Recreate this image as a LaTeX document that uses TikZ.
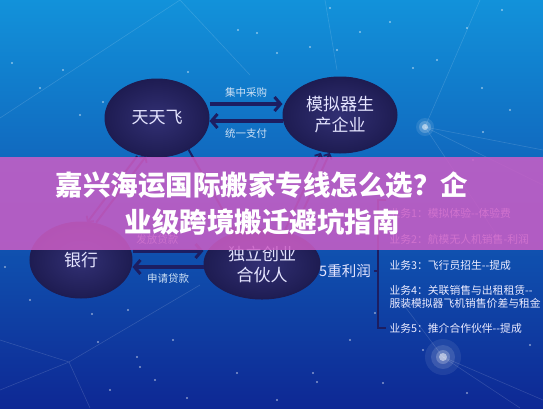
\documentclass[tikz,border=0pt]{standalone}
\usepackage{fontspec}
\newfontfamily\cjk{Noto Sans CJK SC}
\usetikzlibrary{shapes.geometric}
\usetikzlibrary{arrows.meta}
\usetikzlibrary{positioning}

\definecolor{navy}{RGB}{28,30,98}
\definecolor{bubblein}{RGB}{50,48,116}
\definecolor{bubbleout}{RGB}{30,28,82}
\definecolor{skytop}{RGB}{18,146,218}
\definecolor{skymid}{RGB}{16,108,204}
\definecolor{skybot}{RGB}{14,40,148}
\definecolor{band}{RGB}{204,94,198}
\definecolor{tagtext}{RGB}{205,225,245}

\tikzset{
  bubble/.style={ellipse, draw=bubbleout, line width=1pt, inner color=bubblein,
    outer color=bubbleout, text=white!90!blue, align=center, inner sep=0pt,
    font=\cjk\fontsize{17}{21}\selectfont},
  flow/.style={draw=navy, line width=3.6pt,
    -{Straight Barb[length=6pt,width=14pt,line width=3pt]}},
  slant/.style={draw=navy, line width=2pt,
    -{Straight Barb[length=4pt,width=9pt,line width=1.8pt]}},
  tag/.style={text=tagtext, font=\cjk\fontsize{10.5}{12}\selectfont},
  item/.style={text=white!92!blue, anchor=west, font=\cjk\fontsize{10.8}{13}\selectfont},
  faint/.style={draw=white, opacity=.14, line width=.6pt},
}

\begin{document}
\begin{tikzpicture}[x=1pt, y=-1pt]
  \useasboundingbox (0,0) rectangle (543,408);
  \clip (0,0) rectangle (543,408);
  % sky
  \shade[top color=skytop, middle color=skymid, bottom color=skybot] (0,0) rectangle (543,408);

  % star net
  \draw[faint] (0,118) -- (180,0) -- (250,75);
  \draw[faint] (325,0) -- (337,70);
  \draw[faint] (480,0) -- (425,127) -- (543,150);
  \draw[faint] (425,127) -- (543,185);
  \draw[faint] (425,127) -- (500,240);
  \draw[faint] (0,340) -- (69,362) -- (0,390);
  \draw[faint] (69,362) -- (200,285);
  \draw[faint] (69,362) -- (90,408);
  \draw[faint] (400,300) -- (443,357) -- (543,400);
  \draw[faint] (443,357) -- (520,408);
  \foreach \x/\y in {238/30,257/33,310/47,330/8,337/50,360/32,390/22,413/68,437/60,
      482/88,467/28,502/10,63/70,40/88,80/115,103/102,12/63,188/72,277/53,510/110,
      483/132,473/160,5/267,92/314,128/310,98/342,137/357,140/367,155/380,110/390,
      173/340,237/373,313/373,317/382,350/340,383/383,467/393,423/350,375/313,
      277/400,187/398,30/300,520/300,530/345}
    \fill[white, opacity=.5] (\x,\y) circle (1.1pt);
  \foreach \r/\o in {9/.1,6/.2,3/.5} \fill[white, opacity=\o] (425,127) circle (\r pt);
  \foreach \r/\o in {18/.08,12/.12,7/.22,4/.5} \fill[white, opacity=\o] (443,357) circle (\r pt);

  % partners
  \node[bubble, minimum width=104pt, minimum height=78pt] (tian) at (157,118) {天天飞};
  \node[bubble, minimum width=114pt, minimum height=76pt] (moni) at (340,115) {模拟器生\\产企业};
  \node[bubble, minimum width=102pt, minimum height=76pt] (bank) at (81,260) {银行};
  \node[bubble, minimum width=116pt, minimum height=70pt] (hehuo) at (262,264) {独立创业\\合伙人};

  \draw[flow] ([yshift=14pt]tian.east) -- ([yshift=14pt]tian.east -| moni.west)
    node[tag, midway, above=2pt] (caigou) {集中采购};
  \draw[flow] ([yshift=-6pt]moni.west) -- ([yshift=-6pt]moni.west -| tian.east)
    node[tag, midway, below=2pt] (zhifu) {统一支付};
  \draw[flow] ([yshift=9pt]bank.east) -- ([yshift=9pt]bank.east -| hehuo.west)
    node[tag, pos=.35, above=2pt] (fafang) {发放贷款};
  \draw[flow] ([yshift=-3pt]hehuo.west) -- ([yshift=-3pt]hehuo.west -| bank.east)
    node[tag, midway, below=2pt] (shenqing) {申请贷款};

  \draw[slant] ([xshift=-6pt]tian.250) -- ([xshift=-6pt]bank.72);
  \draw[slant] ([xshift=3pt]bank.72) -- ([xshift=3pt]tian.250);
  \draw[slant] (tian.315) -- (hehuo.130);
  \draw[slant] (hehuo.45) -- (moni.255);
  \draw[slant] ([xshift=-9pt]hehuo.45) -- ([xshift=-9pt]moni.255);

  % profits
  \node[text=white!90!blue, font=\cjk\fontsize{14.5}{16}\selectfont] (lirun) at (345,271) {5重利润};
  \coordinate (brtop) at (386,200);
  \coordinate (brbot) at (386,328);
  \draw[navy, line width=1.6pt] (brtop) -- (378,200) -- (378,328) -- (brbot);
  \draw[navy, line width=1.6pt] (lirun.east) -- (378,271);
  \node[item] (yw1) at (386,213) {业务1：模拟体验--体验费};
  \node[item] (yw2) at (386,239) {业务2：航模无人机销售-利润};
  \node[item] (yw3) at (386,265) {业务3：飞行员招生--提成};
  \node[item, align=left] (yw4) at (386,297) {业务4：关联销售与出租租赁--\\服装模拟器飞机销售价差与租金};
  \node[item] (yw5) at (386,328) {业务5：推介合作伙伴--提成};

  % title band
  \fill[band, opacity=.86] (0,157) rectangle (543,250);
  \node[text=white, align=center, font=\cjk\bfseries\fontsize{27.5}{37}\selectfont]
    (title) at (262,203) {嘉兴海运国际搬家专线怎么选？企\\业级跨境搬迁避坑指南};
\end{tikzpicture}
\end{document}
